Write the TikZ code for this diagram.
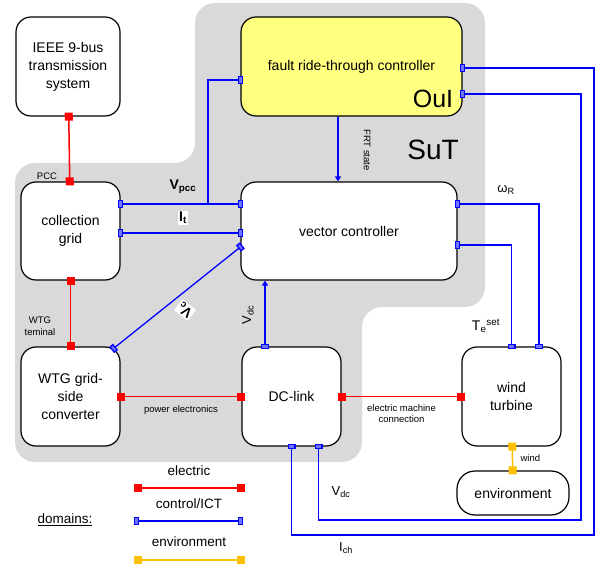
\documentclass[tikz,border=0pt]{standalone}
\usepackage{fontspec}
\setmainfont{Liberation Sans}
\usetikzlibrary{arrows.meta,calc}
\definecolor{sutgray}{RGB}{217,217,217}
\definecolor{ouiyellow}{RGB}{255,255,128}
\definecolor{envorange}{RGB}{255,192,0}
\begin{document}
\begin{tikzpicture}[x=1pt,y=-1pt,
        box/.style={draw,line width=1.2pt,fill=white,rounded corners=15pt,
            align=center,font=\fontsize{14}{18}\selectfont,inner sep=0pt},
        elec/.style={draw=red,line width=1.5pt,
            arrows={Square[length=8pt]-Square[length=8pt]},
            shorten <=-4pt,shorten >=-4pt},
        envl/.style={draw=envorange,line width=1.5pt,
            arrows={Square[length=8pt]-Square[length=8pt]},
            shorten <=-4pt,shorten >=-4pt},
        ctl/.style={draw=blue,line width=1.3pt,
            arrows={Rectangle[length=5pt,width=8pt,fill=blue!55]-Rectangle[length=5pt,width=8pt,fill=blue!55]},
            shorten <=-2.5pt,shorten >=-2.5pt},
        ctlarr/.style={draw=blue,line width=1.3pt,-{Triangle[length=5pt,width=6pt]}},
        small/.style={font=\fontsize{9.5}{11.5}\selectfont,align=center},
        sig/.style={font=\fontsize{13}{15}\selectfont}]
\useasboundingbox (0,0) rectangle (605,569);

% system under test
\fill[sutgray,rounded corners=20pt] (195,3) -- (485,3) -- (485,307) -- (362,307)
    -- (362,462) -- (15,462) -- (15,163) -- (195,163) -- cycle;

% blocks
\node[box,minimum width=104pt,minimum height=99pt] (ieee) at (68,66.5) {IEEE 9-bus\\transmission\\system};
\node[box,fill=ouiyellow,minimum width=221pt,minimum height=99pt] (frt) at (351.5,66.5) {fault ride-through controller};
\node[font=\fontsize{25}{25}\selectfont] (oui) at (433,99) {OuI};
\node[box,minimum width=99pt,minimum height=98pt] (cg) at (70.5,231) {collection\\grid};
\node[box,minimum width=216pt,minimum height=98pt] (vc) at (349,231) {vector controller};
\node[box,minimum width=99pt,minimum height=99pt] (wtg) at (70.5,396.5) {WTG grid-\\side\\converter};
\node[box,minimum width=99pt,minimum height=99pt] (dc) at (291.5,396.5) {DC-link};
\node[box,minimum width=99pt,minimum height=99pt] (wt) at (511.5,396.5) {wind\\turbine};
\node[box,rounded corners=18pt,minimum width=112pt,minimum height=44pt] (env) at (513,493) {environment};
\node[font=\fontsize{28}{28}\selectfont] (sut) at (433,150) {SuT};

% electric
\draw[elec] (ieee) -- (cg);
\draw[elec] (cg) -- (wtg);
\draw[elec] (wtg) -- node[small,below=5pt] (pe) {power electronics} (dc);
\draw[elec] (dc) -- node[small,below=4pt] (emc) {electric machine\\connection} (wt);
\node[small] (pcc) at (47,176) {PCC};
\node[small] (wtgt) at (40,326) {WTG\\teminal};

% environment
\draw[envl] (wt) -- node[small,right=4pt] (windl) {wind} (env);

% control / ICT
\coordinate (vpcc) at (208,204);
\draw[ctl] ([yshift=27pt]cg.east) -- ([yshift=27pt]vc.west);
\draw[ctl,shorten <=0pt,arrows={-Rectangle[length=5pt,width=8pt,fill=blue!55]}] (vpcc) |- ([yshift=-13.5pt]frt.west);
\node[sig,font=\fontsize{14}{16}\selectfont\bfseries] (vpccl) at (183,187) {V\textsubscript{pcc}};
\draw[ctl] ([yshift=-2pt]cg.east) -- ([yshift=-2pt]vc.west);
\node[sig,font=\fontsize{14}{16}\selectfont\bfseries,fill=white,inner sep=1pt] (itl) at (183,218) {I\textsubscript{t}};
\draw[ctl] ([yshift=-16pt]vc.west) -- ([xshift=-7pt,yshift=-2pt]wtg.north east);
\node[font=\fontsize{14}{16}\selectfont\bfseries,fill=white,inner sep=1pt,rotate=142] (vcl) at (185,310) {V\textsubscript{c}};
\draw[ctlarr,arrows={Rectangle[length=5pt,width=8pt,fill=blue!55]-Triangle[length=5pt,width=6pt]},shorten <=-2.5pt]
    ([xshift=-26.5pt]dc.north) -- ([xshift=-26.5pt]dc.north |- vc.south);
\node[sig,rotate=90] (vdcl) at (248,315) {V\textsubscript{dc}};
\draw[ctlarr] ([xshift=-13.5pt]frt.south) -- ([xshift=-13.5pt]frt.south |- vc.north);
\node[small,rotate=-90] (frtl) at (367,150) {FRT state};
\draw[ctl] ([yshift=27pt]vc.east) -| ([xshift=27.5pt]wt.north);
\node[sig] (wr) at (506,190) {ω\textsubscript{R}};
\draw[ctl] ([yshift=-14pt]vc.east) -| (wt.north);
\node[sig,font=\fontsize{14}{16}\selectfont] (tset) at (486,326) {T\textsubscript{e}\textsuperscript{set}};
\draw[ctl] ([yshift=-1.5pt]frt.east) -| (594,535) -| (dc.south);
\node[sig] (ich) at (346,548) {I\textsubscript{ch}};
\draw[ctl] ([yshift=-27.5pt]frt.east) -| (581,520) -| ([xshift=27pt]dc.south);
\node[sig] (vdc2) at (341,492) {V\textsubscript{dc}};

% domains
\node[sig,font=\fontsize{13.5}{16}\selectfont] (dom) at (65,520) {\underline{domains:}};
\coordinate (ea) at (134,488); \coordinate (eb) at (245,488);
\coordinate (ca) at (134,521); \coordinate (cb) at (243,521);
\coordinate (na) at (134,560); \coordinate (nb) at (245,560);
\draw[elec,shorten <=0pt,shorten >=0pt] (ea) -- (eb);
\draw[ctl,shorten <=0pt,shorten >=0pt] (ca) -- (cb);
\draw[envl,shorten <=0pt,shorten >=0pt] (na) -- (nb);
\node[sig,font=\fontsize{13.5}{16}\selectfont] (el) at (189,471) {electric};
\node[sig,font=\fontsize{13.5}{16}\selectfont] (cl) at (189,504) {control/ICT};
\node[sig,font=\fontsize{13.5}{16}\selectfont] (nl) at (189,542) {environment};
\end{tikzpicture}
\end{document}
